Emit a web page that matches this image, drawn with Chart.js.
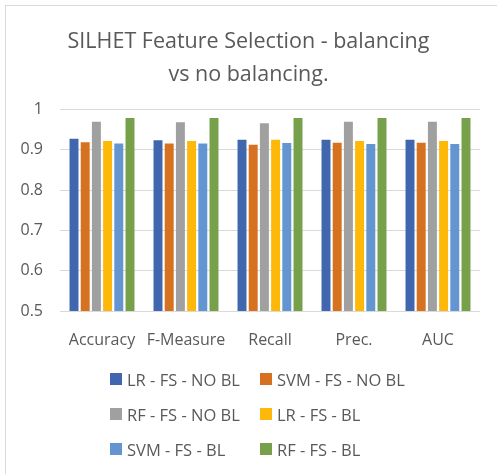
<!DOCTYPE html>
<html>
<head>
<meta charset="utf-8">
<script src="https://cdn.jsdelivr.net/npm/chart.js@4"></script>
<style>
  body { margin: 0; background: #fff; }
  #wrap { position: relative; width: 497px; height: 474px; }
  #frame { position: absolute; left: 5px; top: 5px; right: -2px; bottom: -2px; border: 1px solid #d9d9d9; }
  #legend { position: absolute; left: 110px; top: 368px; display: grid; grid-template-columns: 150px 180px; row-gap: 13px;
            font-family: "Open Sans", sans-serif; font-size: 16.5px; color: #595959; }
  #legend div { display: flex; align-items: center; height: 22px; white-space: nowrap; }
  #legend span { display: inline-block; width: 12px; height: 12px; margin-right: 5px; }
</style>
</head>
<body>
<div id="wrap">
  <div id="frame"></div>
  <canvas id="chart" width="497" height="474"></canvas>
  <div id="legend"></div>
</div>
<script>
const categories = ["Accuracy", "F-Measure", "Recall", "Prec.", "AUC"];
const seriesNames = ["LR - FS - NO BL", "SVM - FS - NO BL", "RF - FS - NO BL", "LR - FS - BL", "SVM - FS - BL", "RF - FS - BL"];
const lrNoBl = [0.928, 0.924, 0.925, 0.925, 0.925];
const svmNoBl = [0.919, 0.916, 0.913, 0.918, 0.918];
const rfNoBl = [0.970, 0.969, 0.966, 0.970, 0.970];
const lrBl = [0.922, 0.922, 0.925, 0.922, 0.922];
const svmBl = [0.916, 0.916, 0.917, 0.915, 0.915];
const rfBl = [0.979, 0.979, 0.979, 0.979, 0.979];
const yTicks = [0.5, 0.6, 0.7, 0.8, 0.9, 1];

const colors = ["#4067ae", "#d6721f", "#a0a0a0", "#fdb80a", "#6396d0", "#76a04a"];
const values = [lrNoBl, svmNoBl, rfNoBl, lrBl, svmBl, rfBl];

const textColor = "#595959";
const font = "'Open Sans', sans-serif";

new Chart(document.getElementById("chart"), {
  type: "bar",
  data: {
    labels: categories,
    datasets: seriesNames.map((name, i) => ({
      label: name,
      data: values[i],
      backgroundColor: colors[i],
      barPercentage: 0.8,
      categoryPercentage: 0.8,
    })),
  },
  options: {
    responsive: false,
    animation: false,
    layout: { padding: { left: 0, right: 0, top: 0, bottom: 118 } },
    plugins: {
      legend: { display: false },
      tooltip: { enabled: false },
      title: {
        display: true,
        text: ["SILHET Feature Selection - balancing", "vs no balancing."],
        color: textColor,
        font: { family: font, size: 21.5, weight: "normal", lineHeight: 1.55 },
        padding: { top: 25, bottom: 18 },
      },
    },
    scales: {
      x: {
        grid: { display: false },
        border: { display: false },
        ticks: { color: textColor, font: { family: font, size: 16 }, padding: 12, maxRotation: 0 },
        afterFit: (s) => { s.height = 45; },
      },
      y: {
        min: 0.5,
        max: 1,
        afterBuildTicks: (s) => { s.ticks = yTicks.map((v) => ({ value: v })); },
        grid: { color: "#d9d9d9", drawTicks: false, lineWidth: 1 },
        border: { display: false },
        ticks: { color: textColor, font: { family: font, size: 16 }, padding: 17, callback: (v) => String(v) },
        afterFit: (s) => { s.width = 60; },
      },
      // empty right margin so the title centres on the whole canvas
      pad: {
        type: "linear",
        position: "right",
        grid: { display: false },
        border: { display: false },
        ticks: { display: false },
        afterFit: (s) => { s.width = 17; },
      },
    },
  },
});

const legend = document.getElementById("legend");
seriesNames.forEach((name, i) => {
  const item = document.createElement("div");
  item.innerHTML = `<span style="background:${colors[i]}"></span>${name}`;
  legend.appendChild(item);
});
</script>
</body>
</html>
